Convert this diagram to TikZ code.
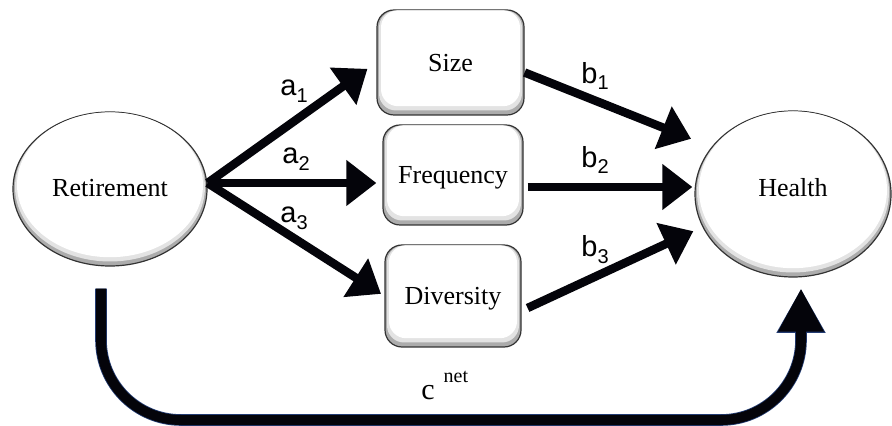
\documentclass[tikz,border=0pt]{standalone}
\usepackage{fontspec}
\setmainfont{Liberation Serif}
\setsansfont{Liberation Sans}
\usetikzlibrary{arrows.meta,calc,shapes.geometric}

\definecolor{rimgray}{gray}{0.50}
\definecolor{navy}{RGB}{35,60,115}
\definecolor{ink}{RGB}{4,4,10}

% bevelled node: outlined grey rim, a lighter band, and a white face lifted upwards
% #1 name, #2 shape, #3 position, #4 width, #5 height, #6 text, #7 baseline drop
\newcommand\bevel[7]{%
  \node[#2, rimlayer, minimum width=#4, minimum height=#5] (#1) at #3 {};
  \node[#2, midlayer, minimum width=#4-2pt, minimum height=#5-2.5pt] (#1mid) at ([yshift=1pt]#1.center) {};
  \node[#2, facelayer, minimum width=#4-4pt, minimum height=#5-4.6pt] (#1face) at ([yshift=2.1pt]#1.center) {};
  \node[nodetext] (#1text) at ([yshift=-#7]#1.center) {#6};
}
% path coefficient with a lowered index
\newcommand\coef[2]{\sffamily\fontsize{14.5}{16}\selectfont #1\raisebox{-0.45ex}{\fontsize{10}{12}\selectfont #2}}

\begin{document}
\begin{tikzpicture}[x=0.5pt,y=-0.5pt,
  rimlayer/.style={fill=rimgray!65, draw=black!80, line width=0.6pt, inner sep=0pt},
  midlayer/.style={fill=gray!22, inner sep=0pt},
  facelayer/.style={fill=white, inner sep=0pt},
  nodetext/.style={anchor=base, inner sep=0pt, font=\fontsize{13}{15}\selectfont},
  oval/.style={ellipse},
  card/.style={rectangle, rounded corners=8.5pt},
  arr/.style={draw=ink, line width=4.25pt, -{Triangle[length=15pt,width=22pt]}},
  netline/.style={draw=ink, line width=5pt, rounded corners=40pt,
    -{Triangle[length=21.5pt,width=21.5pt]},
    preaction={draw=navy, line width=5.8pt, -{Triangle[length=22.2pt,width=23pt]}}},
  lab/.style={inner sep=0pt}
]
\useasboundingbox (0,0) rectangle (892,426);

% variables
\bevel{ret}{oval}{(110,189)}{97pt}{77pt}{Retirement}{4pt}
\bevel{health}{oval}{(793,194)}{98pt}{83pt}{Health}{1.5pt}

% mediators
\bevel{size}{card}{(450.5,62.5)}{73.5pt}{52.5pt}{Size}{4.75pt}
\bevel{freq}{card}{(453,175)}{70pt}{50pt}{Frequency}{4.5pt}
\bevel{div}{card}{(453,296)}{68pt}{51pt}{Diversity}{4.5pt}

% a-paths
\coordinate (hub) at ([yshift=3pt]ret.east);
\draw[arr, shorten >=5.5pt] (hub) -- (size.west);
\draw[arr, shorten >=3pt] (hub) -- (hub -| freq.west);
\draw[arr, shorten >=2pt] (hub) -- (div.west);

% b-paths
\coordinate (b1s) at ([yshift=-5pt]size.east);
\coordinate (b2s) at ([xshift=2pt,yshift=-6pt]freq.east);
\coordinate (b3s) at ([xshift=3pt,yshift=-6pt]div.east);
\draw[arr, shorten >=11pt] (b1s) -- (health.150);
\draw[arr, shorten >=1pt] (b2s) -- (b2s -| health.west);
\draw[arr, shorten >=5pt] (b3s) -- (health.200);

% coefficients
\node[lab] (la1) at (294,91) {\coef{a}{1}};
\node[lab] (la2) at (296,159) {\coef{a}{2}};
\node[lab] (la3) at (294,218) {\coef{a}{3}};
\node[lab] (lb1) at (595,76) {\coef{b}{1}};
\node[lab] (lb2) at (595,160) {\coef{b}{2}};
\node[lab] (lb3) at (595,250) {\coef{b}{3}};

% direct effect
\coordinate (cs) at ([xshift=-4.5pt,yshift=-11pt]ret.south);
\coordinate (ce) at ([xshift=4pt,yshift=-5.5pt]health.south);
\coordinate (floor) at (0,420);
\draw[netline] (cs) -- (cs |- floor) -- (ce |- floor) -- (ce);
\node[lab, anchor=base west] (lc) at (421,400)
  {{\fontsize{15}{17}\selectfont c}\hspace{4.5pt}\raisebox{9pt}{\fontsize{10}{12}\selectfont net}};
\end{tikzpicture}
\end{document}
